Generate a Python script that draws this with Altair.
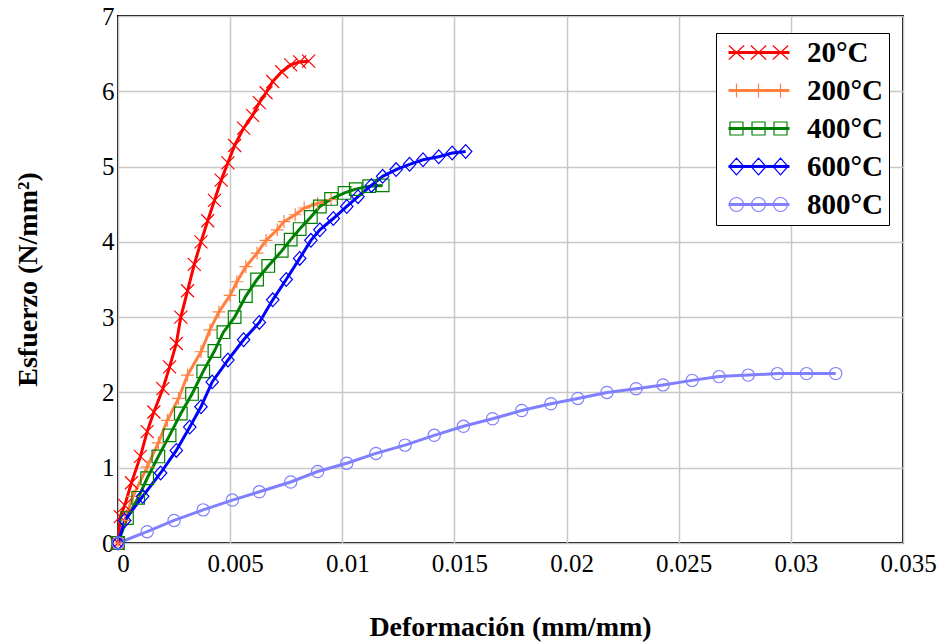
import altair as alt
import pandas as pd

series_names = ["20°C", "200°C", "400°C", "600°C", "800°C"]
series_colors = ["#ff0000", "#ff8040", "#008000", "#0000ff", "#8080ff"]

strain_20 = [0, 0.0001, 0.0003, 0.0006, 0.001, 0.0013, 0.0016, 0.002, 0.0023, 0.0026,
             0.0028, 0.0031, 0.0034, 0.0037, 0.004, 0.0043, 0.0046, 0.0049, 0.0052,
             0.0056, 0.006, 0.0063, 0.0066, 0.0069, 0.0073, 0.0077, 0.0081, 0.0085]
stress_20 = [0, 0.35, 0.5, 0.8, 1.15, 1.48, 1.74, 2.05, 2.34, 2.65,
             3.0, 3.35, 3.7, 4.0, 4.28, 4.55, 4.82, 5.05, 5.28,
             5.51, 5.68, 5.85, 5.98, 6.13, 6.26, 6.35, 6.39, 6.4]

strain_200 = [0, 0.0003, 0.00067, 0.0013, 0.0018, 0.0022, 0.0027, 0.0031, 0.0037, 0.0041,
              0.0045, 0.005, 0.0053, 0.0057, 0.0062, 0.0066, 0.0071, 0.0074, 0.0079, 0.0083,
              0.0089, 0.0095]
stress_200 = [0, 0.3, 0.62, 1.01, 1.33, 1.63, 1.92, 2.23, 2.54, 2.83,
              3.07, 3.29, 3.47, 3.67, 3.85, 4.02, 4.16, 4.27, 4.36, 4.45,
              4.51, 4.56]

strain_400 = [0, 0.0004, 0.0009, 0.0013, 0.0018, 0.0023, 0.0028, 0.0033, 0.0038, 0.0043,
              0.0047, 0.0052, 0.0057, 0.0062, 0.0067, 0.0073, 0.0077, 0.0081, 0.0086, 0.009,
              0.0095, 0.0101, 0.0106, 0.0112, 0.0118]
stress_400 = [0, 0.33, 0.6, 0.86, 1.15, 1.43, 1.72, 1.98, 2.28, 2.55,
              2.8, 3.0, 3.28, 3.5, 3.68, 3.88, 4.03, 4.17, 4.33, 4.47,
              4.57, 4.65, 4.7, 4.74, 4.75]

strain_600 = [0, 0.0003, 0.0011, 0.0019, 0.0026, 0.0032, 0.0037, 0.0042, 0.0049, 0.0056,
              0.0063, 0.0069, 0.0075, 0.0081, 0.0086, 0.009, 0.0096, 0.0102, 0.0107, 0.0113,
              0.0118, 0.0124, 0.013, 0.0136, 0.0143, 0.0149, 0.0155]
stress_600 = [0, 0.3, 0.62, 0.93, 1.23, 1.54, 1.81, 2.14, 2.43, 2.7,
              2.93, 3.23, 3.5, 3.78, 4.02, 4.16, 4.31, 4.47, 4.6, 4.75,
              4.87, 4.96, 5.03, 5.09, 5.13, 5.18, 5.2]

strain_800 = [0, 0.0013, 0.0025, 0.0038, 0.0051, 0.0063, 0.0077, 0.0089, 0.0102, 0.0115,
              0.0128, 0.0141, 0.0154, 0.0167, 0.018, 0.0193, 0.0205, 0.0218, 0.0231, 0.0243,
              0.0256, 0.0268, 0.0281, 0.0294, 0.0307, 0.032]
stress_800 = [0, 0.15, 0.3, 0.44, 0.57, 0.68, 0.81, 0.95, 1.06, 1.19,
              1.3, 1.43, 1.55, 1.65, 1.76, 1.85, 1.92, 2.0, 2.05, 2.1,
              2.16, 2.21, 2.23, 2.25, 2.25, 2.25]

x_ticks = [0, 0.005, 0.01, 0.015, 0.02, 0.025, 0.03, 0.035]
y_ticks = [0, 1, 2, 3, 4, 5, 6, 7]

all_strain = [strain_20, strain_200, strain_400, strain_600, strain_800]
all_stress = [stress_20, stress_200, stress_400, stress_600, stress_800]

rows = []
for name, xs, ys in zip(series_names, all_strain, all_stress):
    for i, (xv, yv) in enumerate(zip(xs, ys)):
        rows.append({"series": name, "strain": xv, "stress": yv, "idx": i})
df = pd.DataFrame(rows)

# marker shapes (unit symbol paths)
plot_shapes = ["M-1,-1L1,1M-1,1L1,-1", "M-1,0H1M0,-1V1", "M-1,-1H1V1H-1Z",
               "M0,-1.1L1,0L0,1.1L-1,0Z", "circle"]
plot_sizes = [169, 150, 225, 160, 324]


def legend_path(kind):
    parts = []
    for yy in (-0.14, 0, 0.14):
        parts.append(f"M-1,{yy}H7.71")
    for cx in (0.14, 3.29, 6.43):
        if kind == "x":
            parts.append(f"M{cx-1.1:.2f},-1L{cx+1.1:.2f},1M{cx-1.1:.2f},1L{cx+1.1:.2f},-1")
        elif kind == "plus":
            parts.append(f"M{cx-1:.2f},0H{cx+1:.2f}M{cx:.2f},-1V1")
        elif kind == "square":
            parts.append(f"M{cx-0.93:.2f},-0.93H{cx+0.93:.2f}V0.93H{cx-0.93:.2f}Z")
        elif kind == "diamond":
            parts.append(f"M{cx:.2f},-1.2L{cx+1.07:.2f},0L{cx:.2f},1.2L{cx-1.07:.2f},0Z")
        else:
            parts.append(f"M{cx-1:.2f},0A1,1,0,1,1,{cx+1:.2f},0A1,1,0,1,1,{cx-1:.2f},0Z")
    return "".join(parts)


legend_shapes = [legend_path(k) for k in ["x", "plus", "square", "diamond", "circle"]]

serif = "Liberation Serif"

x_enc = alt.X("strain:Q",
              scale=alt.Scale(domain=[0, 0.035], nice=False, zero=False),
              axis=alt.Axis(values=x_ticks, format="~g", title="Deformación (mm/mm)",
                            labelPadding=8, labelFlush=False, labelOffset=5,
                            titleX=392, titleY=84,
                            titleBaseline="middle", titleAlign="center"))
y_enc = alt.Y("stress:Q",
              scale=alt.Scale(domain=[0, 7], nice=False),
              axis=alt.Axis(values=y_ticks, title="Esfuerzo (N/mm²)", labelPadding=4,
                            labelFlush=False,
                            titleX=-90, titleY=263, titleBaseline="middle",
                            titleAlign="center", titleAngle=270))

color_plain = alt.Color("series:N", scale=alt.Scale(domain=series_names, range=series_colors),
                        legend=None)

lines = alt.Chart(df).mark_line(strokeWidth=3).encode(
    x=x_enc, y=y_enc, color=color_plain, order="idx:Q", detail="series:N")

points = alt.Chart(df).mark_point(filled=False, strokeWidth=1.2, opacity=1).encode(
    x=x_enc, y=y_enc, color=color_plain,
    shape=alt.Shape("series:N", scale=alt.Scale(domain=series_names, range=plot_shapes), legend=None),
    size=alt.Size("series:N", scale=alt.Scale(domain=series_names, range=plot_sizes), legend=None))

NBSP = "\u00a0"


def make_legend():
    return alt.Legend(orient="none", legendX=598, legendY=17, title=None,
                      labelFont=serif, labelFontSize=29, labelFontWeight="bold",
                      labelColor="black", symbolSize=196, symbolStrokeWidth=1.2,
                      labelOffset=57, rowPadding=8, padding=5,
                      labelExpr=f"datum.label + '{NBSP}{NBSP}'",
                      fillColor="white", strokeColor="black")


legend_layer = alt.Chart(df).transform_filter("false").mark_point(
    filled=False, strokeWidth=1.2, opacity=1, size=196).encode(
    x=x_enc, y=y_enc,
    color=alt.Color("series:N", scale=alt.Scale(domain=series_names, range=series_colors),
                    legend=make_legend()),
    shape=alt.Shape("series:N", scale=alt.Scale(domain=series_names, range=legend_shapes),
                    legend=make_legend()))

chart = alt.layer(lines, points, legend_layer).resolve_scale(
    color="independent", shape="independent", size="independent"
).properties(
    width=785, height=527,
    autosize=alt.AutoSizeParams(type="none"),
    padding={"left": 118, "top": 16, "right": 40, "bottom": 100},
    background="white",
).configure_view(stroke="black", strokeWidth=2).configure_axis(
    gridColor="#c8c8c8", gridWidth=1.5, domain=False, ticks=False,
    labelFont=serif, labelFontSize=25, labelColor="black",
    titleFont=serif, titleFontSize=28, titleFontWeight="bold", titleColor="black")

chart.save("out.html", embed_options={"renderer": "svg", "actions": False})
